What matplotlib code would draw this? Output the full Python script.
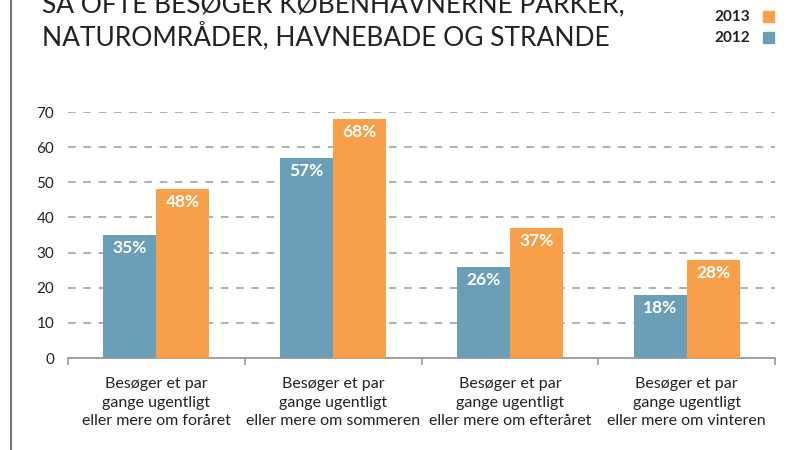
import numpy as np
import matplotlib
matplotlib.use("Agg")
from matplotlib import pyplot as plt
from matplotlib.lines import Line2D
from matplotlib.patches import Rectangle

plt.rcParams['font.family'] = ['Lato', 'DejaVu Sans']

categories = [
    'Besøger et par\ngange ugentligt\neller mere om foråret',
    'Besøger et par\ngange ugentligt\neller mere om sommeren',
    'Besøger et par\ngange ugentligt\neller mere om efteråret',
    'Besøger et par\ngange ugentligt\neller mere om vinteren',
]
values_2012 = [35, 57, 26, 18]
values_2013 = [48, 68, 37, 28]
yticks = [0, 10, 20, 30, 40, 50, 60, 70]

blue = '#6a9fb7'
orange = '#f7a049'
grey = '#9a9a9a'

fig = plt.figure(figsize=(8.01, 4.5), dpi=100)
ax = fig.add_axes([68 / 801, 92 / 450, 707 / 801, 246 / 450])

x = np.arange(len(categories)) + 0.5
w = 0.3
bars12 = ax.bar(x - w / 2, values_2012, w, color=blue, zorder=3)
bars13 = ax.bar(x + w / 2, values_2013, w, color=orange, zorder=3)

for bars, vals in ((bars12, values_2012), (bars13, values_2013)):
    for b, v in zip(bars, vals):
        ax.text(b.get_x() + b.get_width() / 2, v - 1.4, '{}%'.format(v),
                ha='center', va='top', color='white', fontsize=12.5,
                fontweight='bold', zorder=4)

ax.set_xlim(0, 4)
ax.set_ylim(0, 70)
ax.set_yticks(yticks)
ax.yaxis.grid(True, linestyle=(0, (5, 5)), color=grey, linewidth=1.1, zorder=0)
ax.set_axisbelow(True)
for s in ('left', 'right', 'top'):
    ax.spines[s].set_visible(False)
ax.spines['bottom'].set_color(grey)
ax.spines['bottom'].set_linewidth(1.3)
ax.set_xticks([0, 1, 2, 3, 4])
ax.set_xticklabels([])
ax.set_xticks(x, minor=True)
ax.set_xticklabels(categories, minor=True, fontsize=11.5, linespacing=1.38,
                   color='#222222')
ax.tick_params(axis='x', which='major', length=5, color=grey, width=1.2)
ax.tick_params(axis='x', which='minor', length=0, pad=14)
ax.tick_params(axis='y', length=0, labelsize=11, pad=10, colors='#222222')

# title (first line partly cut off at the top)
fig.text(42 / 801, 1 - 12 / 450, 'SÅ OFTE BESØGER KØBENHAVNERNE PARKER,',
         fontsize=19, color='#222222', va='baseline', ha='left')
fig.text(42 / 801, 1 - 45 / 450, 'NATUROMRÅDER, HAVNEBADE OG STRANDE',
         fontsize=19, color='#222222', va='baseline', ha='left')

# legend
fig.text(750 / 801, 1 - 17 / 450, '2013', fontsize=11, fontweight='bold',
         ha='right', va='center', color='#222222')
fig.text(750 / 801, 1 - 38 / 450, '2012', fontsize=11, fontweight='bold',
         ha='right', va='center', color='#222222')
fig.add_artist(Rectangle((763 / 801, 1 - 22 / 450), 11 / 801, 11 / 450,
                         transform=fig.transFigure, color=orange))
fig.add_artist(Rectangle((763 / 801, 1 - 43 / 450), 11 / 801, 11 / 450,
                         transform=fig.transFigure, color=blue))

# left border line
fig.add_artist(Line2D([10.5 / 801, 10.5 / 801], [0, 1], transform=fig.transFigure,
                      color='#555566', linewidth=1.2))

fig.savefig('out.png', dpi=100)
